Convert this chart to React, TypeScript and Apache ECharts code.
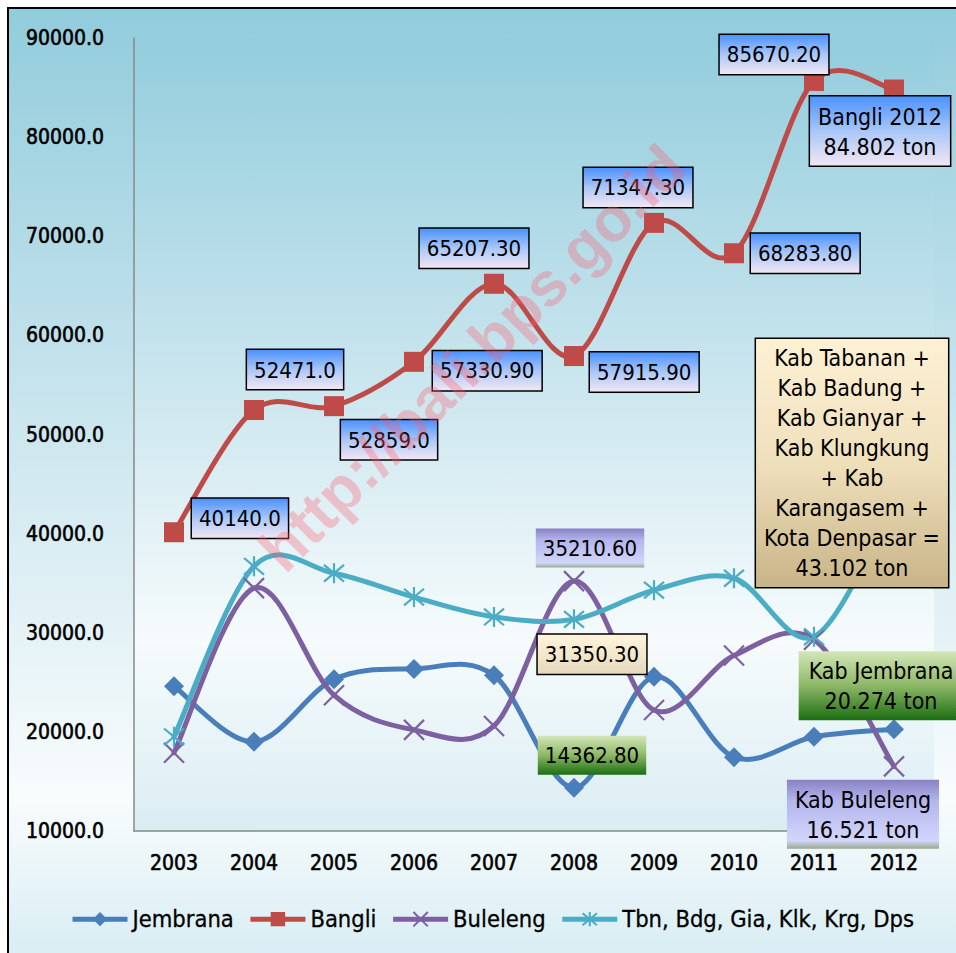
import React, { useEffect, useRef } from "react";
import * as echarts from "echarts";

const years = ["2003", "2004", "2005", "2006", "2007", "2008", "2009", "2010", "2011", "2012"];
const jembrana = [24600, 19000, 25300, 26350, 25700, 14362.8, 25550, 17450, 19500, 20274];
const bangli = [40140, 52471, 52859, 57330.9, 65207.3, 57915.9, 71347.3, 68283.8, 85670.2, 84802];
const buleleng = [17900, 34500, 23700, 20200, 20600, 35210.6, 22200, 27700, 29300, 16521];
const others = [19500, 36700, 36000, 33600, 31600, 31350.3, 34300, 35500, 29600, 43102];
const seriesNames = ["Jembrana", "Bangli", "Buleleng", "Tbn, Bdg, Gia, Klk, Krg, Dps"];
const seriesColors = ["#4A7EBB", "#BE4B48", "#7D60A0", "#4BACC6"];
const bangliLabels = ["40140.0", "52471.0", "52859.0", "57330.90", "65207.30", "57915.90", "71347.30", "68283.80", "85670.20", "Bangli 2012\n84.802 ton"];
const othersNote = "Kab Tabanan +\nKab Badung +\nKab Gianyar +\nKab Klungkung\n+ Kab\nKarangasem +\nKota Denpasar =\n43.102 ton";
const jembranaNote = "Kab Jembrana\n20.274 ton";
const bulelengNote = "Kab Buleleng\n16.521 ton";
const yTicks = { min: 10000, max: 90000, interval: 10000 };

const FONT = "'Liberation Sans Narrow', 'DejaVu Sans Condensed', 'Liberation Sans', sans-serif";

const grad = (stops: [number, string][]) =>
  new echarts.graphic.LinearGradient(0, 0, 0, 1, stops.map(([offset, color]) => ({ offset, color })));

const blueBox = () => ({
  backgroundColor: grad([[0, "#4C92FF"], [0.5, "#A9C7F8"], [1, "#F1E6F3"]]),
  borderColor: "#000",
  borderWidth: 1.5,
});
const creamBox = () => ({
  backgroundColor: grad([[0, "#FFF5DC"], [1, "#E6D9BC"]]),
  borderColor: "#000",
  borderWidth: 1.5,
});
const tanBox = () => ({
  backgroundColor: grad([[0, "#FDF1D4"], [0.5, "#EFE0BC"], [1, "#C8B487"]]),
  borderColor: "#000",
  borderWidth: 1.5,
});
const greenBox = () => ({
  backgroundColor: grad([[0, "#D4E6B8"], [0.5, "#8DB866"], [1, "#1C6E12"]]),
});
const purpleBox = () => ({
  backgroundColor: grad([[0, "#8882C4"], [0.3, "#B4B5EC"], [0.88, "#D2D6FB"], [1, "#98A98A"]]),
});

const numLabel = {
  show: true,
  color: "#000",
  fontSize: 22,
  lineHeight: 30,
  fontFamily: FONT,
  padding: [5, 7, 4, 7],
};
const textLabel = {
  show: true,
  color: "#000",
  fontSize: 23,
  lineHeight: 30,
  fontFamily: FONT,
  padding: [5, 8, 4, 8],
  align: "center",
};

const bangliLabelPos: any[] = [
  { position: "right", distance: 8, offset: [0, -14] },
  { position: "top", distance: 11, offset: [41, 0] },
  { position: "bottom", distance: 4, offset: [55, 0] },
  { position: "right", distance: 9, offset: [0, 9] },
  { position: "top", distance: 6, offset: [-20, 0] },
  { position: "right", distance: 6, offset: [0, 16] },
  { position: "top", distance: 6, offset: [-16, 0] },
  { position: "right", distance: 7, offset: [0, 0] },
  { position: "top", distance: -3, offset: [-40, 0] },
  { position: "bottom", distance: -3, offset: [-14, 0] },
];

function curveSeries(vals: number[], color: string) {
  const n = vals.length;
  const clamp = (k: number) => Math.max(0, Math.min(n - 1, k));
  return {
    type: "custom",
    z: 1,
    silent: true,
    data: vals.slice(0, -1).map((v, i) => [i, v]),
    encode: { x: 0, y: 1 },
    renderItem: (params: any, api: any) => {
      const i = params.dataIndex;
      const p = (k: number) => api.coord([clamp(k), vals[clamp(k)]]);
      const p0 = p(i - 1), p1 = p(i), p2 = p(i + 1), p3 = p(i + 2);
      const t = 1 / 6;
      return {
        type: "bezierCurve",
        shape: {
          x1: p1[0], y1: p1[1], x2: p2[0], y2: p2[1],
          cpx1: p1[0] + (p2[0] - p0[0]) * t,
          cpy1: p1[1] + (p2[1] - p0[1]) * t,
          cpx2: p2[0] - (p3[0] - p1[0]) * t,
          cpy2: p2[1] - (p3[1] - p1[1]) * t,
        },
        style: { stroke: color, lineWidth: 5, fill: null, lineCap: "round" },
      };
    },
  };
}

export default function App() {
  const ref = useRef<HTMLDivElement>(null);
  useEffect(() => {
    if (!ref.current) return;
    const chart = echarts.init(ref.current, null, { renderer: "svg" });

    const bangliData = bangli.map((v, i) => ({
      value: v,
      label: { ...numLabel, ...blueBox(), ...bangliLabelPos[i], formatter: bangliLabels[i], ...(i === 9 ? { fontSize: 23, align: "center", padding: [5, 8, 4, 8] } : {}) },
    }));

    const jembranaData: any[] = jembrana.map((v) => v);
    jembranaData[5] = {
      value: jembrana[5],
      label: { ...numLabel, ...greenBox(), position: "top", distance: 3, offset: [18, 0], formatter: jembrana[5].toFixed(2) },
    };
    jembranaData[9] = {
      value: jembrana[9],
      label: { ...textLabel, ...greenBox(), padding: [5, 10, 4, 10], position: "top", distance: -1, offset: [-13, 0], formatter: jembranaNote },
    };

    const bulelengData: any[] = buleleng.map((v) => v);
    bulelengData[5] = {
      value: buleleng[5],
      label: { ...numLabel, ...purpleBox(), position: "top", distance: 1, offset: [16, 0], formatter: buleleng[5].toFixed(2) },
    };
    bulelengData[9] = {
      value: buleleng[9],
      label: { ...textLabel, ...purpleBox(), position: "bottom", distance: 1, offset: [-31, 0], formatter: bulelengNote },
    };

    const othersData: any[] = others.map((v) => v);
    othersData[5] = {
      value: others[5],
      label: { ...numLabel, ...creamBox(), position: "bottom", distance: 3, offset: [18, 0], formatter: others[5].toFixed(2) },
    };
    othersData[9] = {
      value: others[9],
      label: { ...textLabel, ...tanBox(), padding: [4, 8, 4, 8], position: "inside", offset: [-42, -40], formatter: othersNote },
    };

    const xSym = "path://M0,0L10,10M10,0L0,10";
    const starSym = "path://M0,0L10,10M10,0L0,10M5,-1L5,11";

    const hidden = { width: 0, opacity: 0 };
    const axisText = {
      color: "#000",
      fontSize: 21,
      fontFamily: FONT,
      textBorderColor: "#000",
      textBorderWidth: 0.6,
    };

    chart.setOption({
      animation: false,
      backgroundColor: "transparent",
      textStyle: { fontFamily: FONT },
      grid: {
        left: 134,
        top: 38,
        width: 800,
        height: 793,
        show: true,
        borderWidth: 0,
        backgroundColor: grad([[0, "#93CDDD"], [0.5, "#D3EAF1"], [0.76, "#F6FBFC"], [1, "#DAEDF3"]]),
      },
      legend: {
        left: 70,
        top: 907,
        padding: 0,
        itemWidth: 55,
        itemHeight: 18,
        itemGap: 14,
        textStyle: { fontSize: 23.5, color: "#000", fontFamily: FONT, textBorderColor: "#000", textBorderWidth: 0.3 },
        data: seriesNames.map((name, i) => ({
          name,
          lineStyle: { width: 5, opacity: 1, color: seriesColors[i] },
        })),
      },
      xAxis: {
        type: "category",
        data: years,
        boundaryGap: true,
        axisLine: { lineStyle: { color: "#888", width: 1.5 } },
        axisTick: { show: false },
        axisLabel: { ...axisText, margin: 21 },
      },
      yAxis: {
        type: "value",
        min: yTicks.min,
        max: yTicks.max,
        interval: yTicks.interval,
        splitLine: { show: false },
        axisLine: { show: true, lineStyle: { color: "#888", width: 1.5 } },
        axisTick: { show: false },
        axisLabel: {
          ...axisText,
          margin: 30,
          formatter: (v: number) => v.toFixed(1),
        },
      },
      graphic: [
        {
          type: "text",
          x: 472,
          y: 358,
          rotation: Math.PI / 4,
          z: 100,
          silent: true,
          style: {
            text: "http://bali.bps.go.id",
            fill: "rgba(255, 90, 110, 0.32)",
            font: "bold 62px 'Liberation Sans', sans-serif",
            align: "center",
            verticalAlign: "middle",
          },
        },
      ],
      series: [
        curveSeries(jembrana, seriesColors[0]),
        curveSeries(bangli, seriesColors[1]),
        curveSeries(buleleng, seriesColors[2]),
        curveSeries(others, seriesColors[3]),
        {
          name: seriesNames[0],
          type: "line",
          data: jembranaData,
          symbol: "diamond",
          symbolSize: 20,
          lineStyle: hidden,
          itemStyle: { color: seriesColors[0] },
        },
        {
          name: seriesNames[1],
          type: "line",
          data: bangliData,
          symbol: "rect",
          symbolSize: 20,
          lineStyle: hidden,
          itemStyle: { color: seriesColors[1] },
        },
        {
          name: seriesNames[2],
          type: "line",
          data: bulelengData,
          symbol: xSym,
          symbolSize: 20,
          lineStyle: hidden,
          itemStyle: { color: "none", borderColor: seriesColors[2], borderWidth: 2.2 },
        },
        {
          name: seriesNames[3],
          type: "line",
          data: othersData,
          symbol: starSym,
          symbolSize: 20,
          lineStyle: hidden,
          itemStyle: { color: "none", borderColor: seriesColors[3], borderWidth: 2.2 },
        },
      ],
    });
    return () => chart.dispose();
  }, []);

  return (
    <>
      <div
        style={{
          position: "fixed",
          left: 7,
          top: 7,
          width: 970,
          height: 970,
          border: "2px solid #000",
          background: "linear-gradient(to bottom, #92CCDC 0px, #CDE7EF 430px, #F8FCFD 790px, #D6ECF3 960px)",
        }}
      />
      <div ref={ref} style={{ position: "fixed", left: 0, top: 0, width: 956, height: 953 }} />
    </>
  );
}
